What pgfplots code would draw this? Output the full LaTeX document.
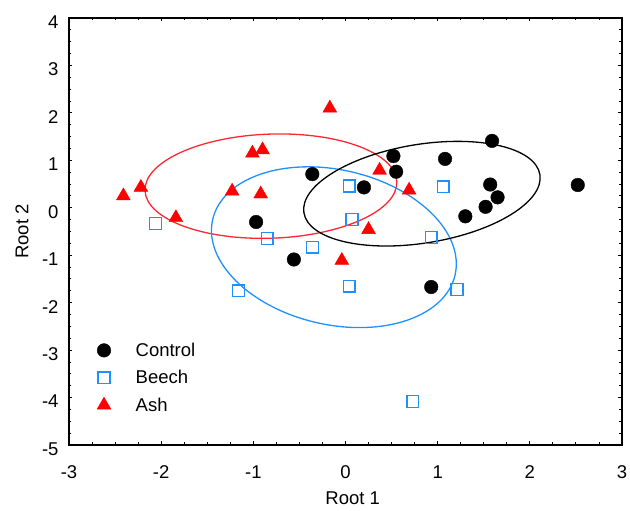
\documentclass[border=0pt]{standalone}
\usepackage{fontspec}
\setmainfont{Liberation Sans}
\usepackage{pgfplots}
\pgfplotsset{compat=1.18}
\definecolor{beechblue}{RGB}{30,144,255}
\definecolor{ashred}{RGB}{255,0,0}
\definecolor{ellred}{RGB}{255,40,50}

\begin{document}
\begin{tikzpicture}
\path[use as bounding box] (-69pt,-66pt) rectangle (561pt,445pt);
\begin{axis}[
  at={(0pt,0pt)}, anchor=south west,
  scale only axis, width=553pt, height=427pt,
  xmin=-3, xmax=3, ymin=-5, ymax=4,
  xtick={-3,-2,-1,0,1,2,3}, ytick={-5,-4,-3,-2,-1,0,1,2,3,4},
  minor x tick num=3, minor y tick num=3,
  tick align=inside, major tick length=3.5pt, minor tick length=2.5pt,
  tick style={line width=0.9pt, black},
  axis line style={line width=1.3pt},
  /pgf/number format/assume math mode=true,
  ticklabel style={font=\fontsize{18.5}{20}\selectfont},
  xticklabel style={yshift=-17pt},
  yticklabel style={yshift=-4pt, xshift=-7pt},
  xlabel={Root 1}, ylabel={Root 2},
  label style={font=\fontsize{18.5}{21}\selectfont},
  xlabel style={at={(axis description cs:0.513,-0.124)}, anchor=center},
  ylabel style={at={(axis description cs:-0.085,0.5)}, anchor=center},
  legend style={draw=none, fill=none, at={(axis cs:-2.73,-2.76)}, anchor=north west,
    font=\fontsize{18.5}{20}\selectfont, row sep=8.5pt},
  legend cell align=left,
  legend image code/.code={\path (0pt,0pt) (29pt,0pt); \draw[mark repeat=2,mark phase=2,#1] plot coordinates {(-8pt,0pt) (0pt,0pt) (8pt,0pt)};},
]
\draw[ellred, line width=1.3pt, rotate around={2:(axis cs:-0.809,0.456)}] (axis cs:-0.809,0.456) ellipse [x radius=1.367, y radius=1.097];
\draw[beechblue, line width=1.3pt, rotate around={-12.9:(axis cs:-0.126,-0.831)}] (axis cs:-0.126,-0.831) ellipse [x radius=1.349, y radius=1.631];
\draw[black, line width=1.3pt, rotate around={9.2:(axis cs:0.829,0.297)}] (axis cs:0.829,0.297) ellipse [x radius=1.297, y radius=1.040];

\addplot[only marks, mark=*, mark size=6.8pt, draw=black, fill=black] coordinates {
(-0.36,0.71) (0.20,0.43) (-0.97,-0.30) (-0.56,-1.09) (0.52,1.09) (0.55,0.76)
(1.08,1.03) (1.59,1.41) (1.57,0.49) (1.65,0.22) (1.52,0.02) (1.30,-0.18)
(2.52,0.48) (0.93,-1.67)
};
\addlegendentry{Control}
\addplot[only marks, mark=square, mark size=5.9pt, draw=beechblue, line width=1.3pt] coordinates {
(-2.06,-0.33) (-0.85,-0.65) (-0.36,-0.83) (0.04,0.46) (0.07,-0.25) (-1.16,-1.75)
(0.04,-1.65) (1.06,0.44) (0.93,-0.63) (1.21,-1.72) (0.73,-4.08)
};
\addlegendentry{Beech}
\addplot[only marks, mark=triangle*, mark size=8pt, draw=ashred, fill=ashred] coordinates {
(-0.17,2.10) (-1.01,1.15) (-0.90,1.22) (-2.41,0.25) (-2.22,0.43) (-1.84,-0.21)
(-1.23,0.35) (-0.92,0.29) (0.37,0.79) (0.25,-0.46) (-0.04,-1.11) (0.69,0.37)
};
\addlegendentry{Ash}
\end{axis}
\end{tikzpicture}
\end{document}
